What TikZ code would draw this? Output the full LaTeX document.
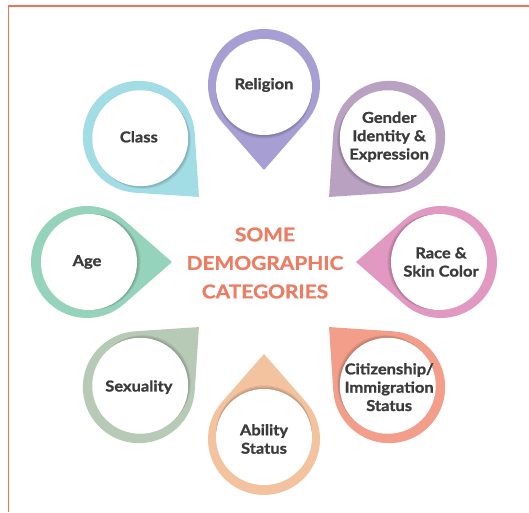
\documentclass[tikz,border=0pt]{standalone}
\usepackage{fontspec}
\setmainfont{Lato}[FakeStretch=1.1, BoldFeatures={FakeBold=1.2}]
\usepackage{tikz}
\definecolor{framecol}{HTML}{F07256}
\definecolor{titlecol}{HTML}{EE7C62}
\definecolor{txtcol}{HTML}{3B3B3B}
\definecolor{relcol}{HTML}{A79ED4}
\definecolor{gencol}{HTML}{B9A1C1}
\definecolor{racecol}{HTML}{E198C1}
\definecolor{citcol}{HTML}{F39E8A}
\definecolor{abicol}{HTML}{F3C29E}
\definecolor{sexcol}{HTML}{B6CAB6}
\definecolor{agecol}{HTML}{96D3BD}
\definecolor{clscol}{HTML}{A2DCE5}
\def\R{56}
\def\r{48}
\def\D{177}
\def\tip{85}
\def\tang{48.8}
\tikzset{
  lbl/.style={font=\bfseries\fontsize{15}{18.3}\selectfont, text=txtcol, align=center},
  ttl/.style={font=\bfseries\fontsize{19}{28.5}\selectfont, text=titlecol, align=center}
}

\begin{document}
\begin{tikzpicture}[x=1pt,y=1pt]
\useasboundingbox (-264,-250) rectangle (265,262);
\draw[framecol, line width=1.5pt] (-255.5,-250) -- (-255.5,256) -- (265,256);

\foreach \a/\col/\nm in {90/relcol/religion, 45/gencol/gender, 0/racecol/race,
    -45/citcol/citizen, -90/abicol/ability, -135/sexcol/sexuality,
    180/agecol/age, 135/clscol/class}{
  \coordinate (\nm) at (\a:\D);
  \begin{scope}[shift={(\nm)}, rotate=\a+180]
    \fill[\col] (\tip,0) -- (\tang:\R) arc[start angle=\tang, end angle=360-\tang, radius=\R] -- cycle;
    \foreach \s in {3.2,4.4,5.6}{
      \fill[black, opacity=0.07] (\s,0) circle (\r);
    }
    \fill[white] (2,0) circle (\r);
  \end{scope}
}

\node[ttl] (title) at (1,-1) {SOME\\DEMOGRAPHIC\\CATEGORIES};
\node[lbl] (religion-l) at (religion) {Religion};
\node[lbl] (gender-l) at (gender) {Gender\\Identity \&\\Expression};
\node[lbl] (race-l) at (race) {Race \&\\Skin Color};
\node[lbl] (citizen-l) at (citizen) {Citizenship/\\Immigration\\Status};
\node[lbl] (ability-l) at (ability) {Ability\\Status};
\node[lbl] (sexuality-l) at (sexuality) {Sexuality};
\node[lbl] (age-l) at (age) {Age};
\node[lbl] (class-l) at (class) {Class};
\end{tikzpicture}
\end{document}
